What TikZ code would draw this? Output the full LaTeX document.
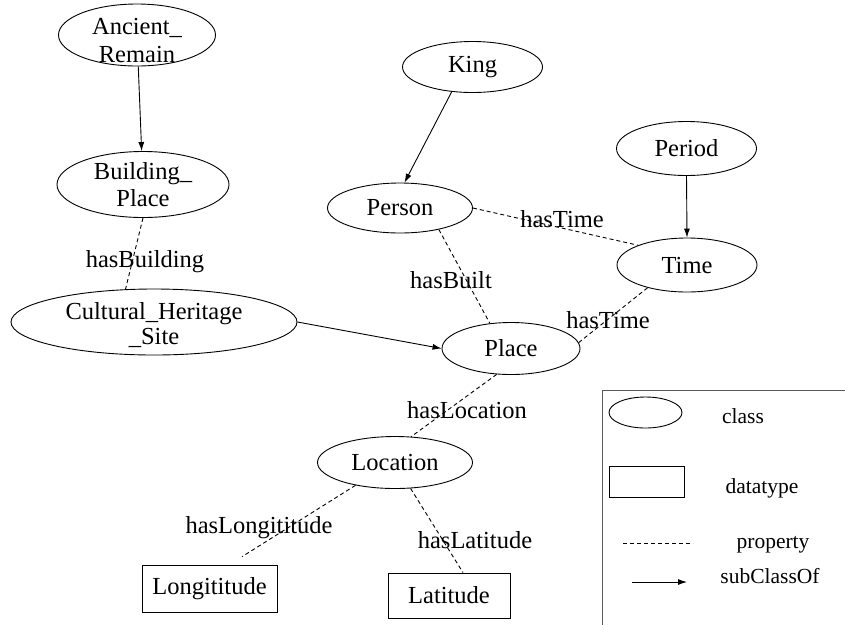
\documentclass[tikz,border=0pt]{standalone}
\usepackage{fontspec}
\setmainfont{Liberation Serif}
\usetikzlibrary{shapes.geometric,arrows.meta}
\begin{document}
\begin{tikzpicture}[x=1pt,y=-1pt,
  every node/.style={font=\fontsize{24.5}{27}\selectfont},
  cls/.style={ellipse,draw,line width=0.9pt,inner sep=0pt,align=center},
  dtype/.style={rectangle,draw,line width=0.9pt,inner sep=0pt},
  prop/.style={draw,line width=0.9pt,dash pattern=on 4pt off 3pt},
  isa/.style={draw,line width=0.9pt,-{Latex[length=9pt,width=6pt]}},
  twoline/.style={align=center,inner sep=0pt,font=\fontsize{24.5}{#1}\selectfont},
  lbl/.style={inner sep=0pt,anchor=base},
  lgtxt/.style={inner sep=0pt,anchor=base,font=\fontsize{21.5}{24}\selectfont},
  frame/.style={draw=black!65,line width=1pt},
]
\useasboundingbox (0,0) rectangle (845,625);

% classes
\node[cls,minimum width=157pt,minimum height=62pt,
  label={[twoline=28,yshift=-6pt]center:Ancient\_\\Remain}] (anc) at (137,35) {};
\node[cls,minimum width=172pt,minimum height=66pt,
  label={[twoline=27]center:Building\_\\Place}] (bld) at (143,184.5) {};
\node[cls,minimum width=286pt,minimum height=66pt,
  label={[twoline=25,yshift=-3pt]center:Cultural\_Heritage\\\_Site}] (chs) at (154,322) {};
\node[cls,minimum width=140pt,minimum height=51pt] (king) at (472.5,67) {King};
\node[cls,minimum width=145pt,minimum height=50pt] (person) at (400,208) {Person};
\node[cls,minimum width=140pt,minimum height=54pt] (period) at (686.5,148.5) {Period};
\node[cls,minimum width=140pt,minimum height=54pt] (time) at (687,265) {Time};
\node[cls,minimum width=138pt,minimum height=52pt] (place) at (511,348.5) {Place};
\node[cls,minimum width=155pt,minimum height=52pt] (loc) at (395,462.5) {Location};

% datatypes
\node[dtype,minimum width=135pt,minimum height=47pt] (lon) at (209.5,588.5) {Longititude};
\node[dtype,minimum width=122pt,minimum height=45pt] (lat) at (449,595.5) {Latitude};

% subclass links
\draw[isa] (anc) -- (bld);
\draw[isa] (chs.east) -- (place.west);
\draw[isa] (king.-130) -- (person.80);
\draw[isa] (period.south) -- (time.north);

% properties
\draw[prop] (bld.south) -- (chs.131);
\draw[prop] (person.east) -- (time.158);
\draw[prop] (person.-29) -- (place.130);
\draw[prop] (place.5) -- (time.-150);
\draw[prop] (place.-119) -- (loc.58);
\draw[prop,shorten >=15pt] (loc.-150) -- ([xshift=20pt]lon.north);
\draw[prop] (loc.-59) -- ([xshift=14pt]lat.north);

% property names
\node[lbl] (lbuilding) at (145,267) {hasBuilding};
\node[lbl] (lbuilt) at (451,288) {hasBuilt};
\node[lbl] (ltime1) at (562,227) {hasTime};
\node[lbl] (ltime2) at (608,328) {hasTime};
\node[lbl] (llocation) at (467,418) {hasLocation};
\node[lbl] (llongitude) at (259,533) {hasLongititude};
\node[lbl] (llatitude) at (475,548) {hasLatitude};

% legend
\coordinate (frTR) at (845,390);
\coordinate (frTL) at (602,390);
\coordinate (frBL) at (602,625);
\draw[frame] (frTR) -- (frTL) -- (frBL);
\node[cls,minimum width=73pt,minimum height=31pt] (lgcls) at (645.5,412.5) {};
\node[dtype,minimum width=75pt,minimum height=31pt] (lgdt) at (646.5,481.5) {};
\coordinate (lgpa) at (623,543);
\coordinate (lgpb) at (693,543);
\draw[prop] (lgpa) -- (lgpb);
\coordinate (lgsa) at (632,582);
\coordinate (lgsb) at (687,582);
\draw[isa] (lgsa) -- (lgsb);
\node[lgtxt] (tcls) at (743,423) {class};
\node[lgtxt] (tdt) at (762,493) {datatype};
\node[lgtxt] (tprop) at (773,548) {property};
\node[lgtxt] (tsub) at (770,583) {subClassOf};
\end{tikzpicture}
\end{document}
